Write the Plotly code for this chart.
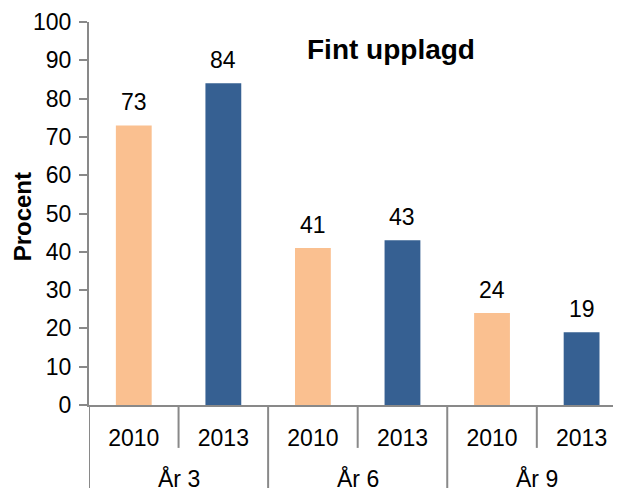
import plotly.graph_objects as go

grades = ["År 3", "År 6", "År 9"]
years = ["2010", "2013", "2010", "2013", "2010", "2013"]
values = [73, 84, 41, 43, 24, 19]
colors = ["#FAC090", "#366092", "#FAC090", "#366092", "#FAC090", "#366092"]
title = "Fint upplagd"

FONT = "Liberation Sans, Arial, sans-serif"
GRAY = "#898989"
xs = list(range(len(values)))

fig = go.Figure(go.Bar(
    x=xs, y=values,
    marker=dict(color=colors, line=dict(width=0)),
    width=0.4, hoverinfo="skip",
))

annotations = []
for x, v in zip(xs, values):
    annotations.append(dict(x=x, y=v, xref="x", yref="y", text=str(v), showarrow=False,
                            yanchor="bottom", yshift=8, font=dict(size=23)))
for gi, g in enumerate(grades):
    annotations.append(dict(x=2 * gi + 0.5, y=-0.193, xref="x", yref="paper", text=g,
                            showarrow=False, yanchor="middle", font=dict(size=23)))
annotations.append(dict(text="<b>" + title + "</b>", x=0.567, y=0.928, xref="paper", yref="paper",
                        showarrow=False, xanchor="center", yanchor="middle", font=dict(size=28)))
annotations.append(dict(text="<b>Procent</b>", x=0, y=0.49, xref="paper", yref="paper",
                        xshift=-67, textangle=-90, xanchor="center", yanchor="middle",
                        showarrow=False, font=dict(size=24)))

shapes = []
for k in range(len(values)):
    b = k - 0.5
    long_line = (k % 2 == 0)
    shapes.append(dict(type="line", xref="x", yref="paper", x0=b, x1=b, y0=0,
                       y1=-0.24 if long_line else -0.112,
                       line=dict(color=GRAY, width=2)))

# the page places the figure 8px from the top-left corner; margins compensate
fig.update_layout(
    width=621, height=488,
    margin=dict(l=81, r=8, t=14, b=91, autoexpand=False),
    paper_bgcolor="white", plot_bgcolor="white",
    showlegend=False,
    font=dict(family=FONT, size=22, color="#000"),
    annotations=annotations, shapes=shapes,
)
fig.update_yaxes(range=[0, 100], dtick=10, showgrid=False, showline=True,
                 linecolor=GRAY, linewidth=2, ticks="outside", ticklen=8,
                 tickcolor=GRAY, tickwidth=2, zeroline=False, automargin=False,
                 tickfont=dict(size=23), ticklabelstandoff=3)
fig.update_xaxes(range=[-0.5, 5.44], showgrid=False, showline=True,
                 linecolor=GRAY, linewidth=2, zeroline=False, automargin=False,
                 tickvals=xs, ticktext=years, ticks="outside", ticklen=11,
                 tickcolor="rgba(0,0,0,0)", tickfont=dict(size=23))

fig.write_html("out.html")
